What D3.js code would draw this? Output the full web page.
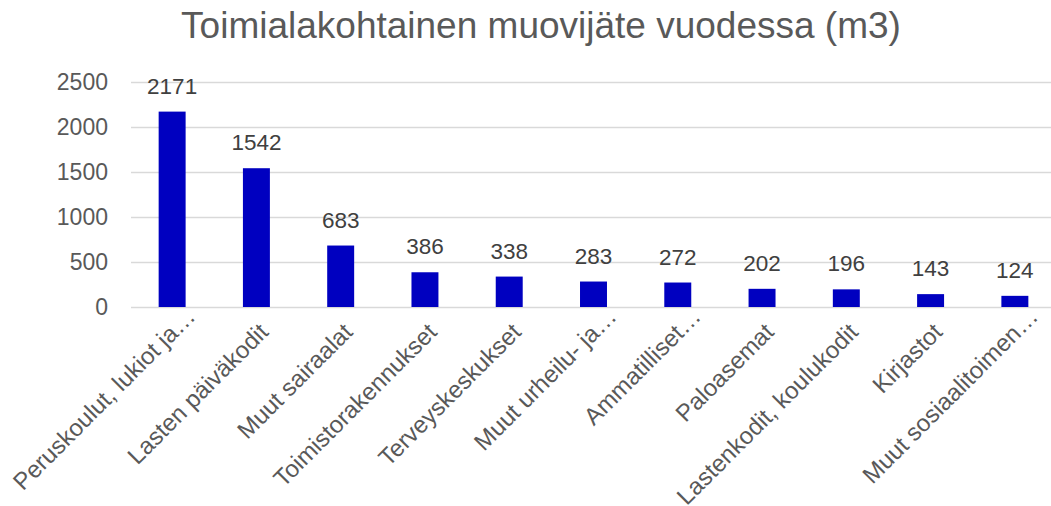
<!DOCTYPE html>
<html><head><meta charset="utf-8">
<script src="https://cdn.jsdelivr.net/npm/d3@7"></script>
<style>body{margin:0;background:#fff}svg{display:block}text{font-family:"Liberation Sans",Arial,sans-serif}</style>
</head><body><svg id="c" width="1051" height="506"></svg>
<script>
const categories = ["Peruskoulut, lukiot ja…","Lasten päiväkodit","Muut sairaalat","Toimistorakennukset","Terveyskeskukset","Muut urheilu- ja…","Ammatilliset…","Paloasemat","Lastenkodit, koulukodit","Kirjastot","Muut sosiaalitoimen…"];
const values = [2171,1542,683,386,338,283,272,202,196,143,124];
const yTicks = [0,500,1000,1500,2000,2500];
const title = "Toimialakohtainen muovijäte vuodessa (m3)";

const svg = d3.select("#c");
const x = d3.scaleBand().domain(categories).range([130,1057]).paddingInner(0.68).paddingOuter(0.34);
const y = d3.scaleLinear().domain([0,2500]).range([307,82]);

svg.append("text").attr("x",541).attr("y",38).attr("text-anchor","middle")
  .attr("font-size",37).attr("fill","#595959").text(title);

const ya = svg.append("g").attr("transform","translate(131,0)")
  .call(d3.axisLeft(y).tickValues(yTicks).tickFormat(d3.format("d")).tickSize(-940).tickPadding(23));
ya.select(".domain").remove();
ya.selectAll(".tick line").attr("stroke","#d9d9d9").attr("stroke-width",1.5);
ya.selectAll(".tick text").attr("font-size",23).attr("fill","#595959").attr("font-family","Liberation Sans, Arial, sans-serif");

svg.append("g").selectAll("rect").data(values).join("rect")
  .attr("x",(d,i)=>x(categories[i])).attr("width",x.bandwidth())
  .attr("y",d=>y(d)).attr("height",d=>y(0)-y(d)).attr("fill","#0000c0");

svg.append("g").selectAll("text").data(values).join("text")
  .attr("x",(d,i)=>x(categories[i])+x.bandwidth()/2).attr("y",d=>y(d)-18)
  .attr("text-anchor","middle").attr("font-size",22.5).attr("fill","#404040").text(d=>d);

const xa = svg.append("g").attr("transform","translate(0,307)")
  .call(d3.axisBottom(x).tickSize(0).tickPadding(0));
xa.select(".domain").remove();
xa.selectAll(".tick text").attr("font-size",24).attr("fill","#595959")
  .attr("font-family","Liberation Sans, Arial, sans-serif")
  .attr("text-anchor","end")
  .attr("dx",d=>d.endsWith("…")?0:-19)
  .attr("dy",d=>d.endsWith("…")?0:3)
  .attr("transform","translate(24.5,11) rotate(-45)");
</script></body></html>
